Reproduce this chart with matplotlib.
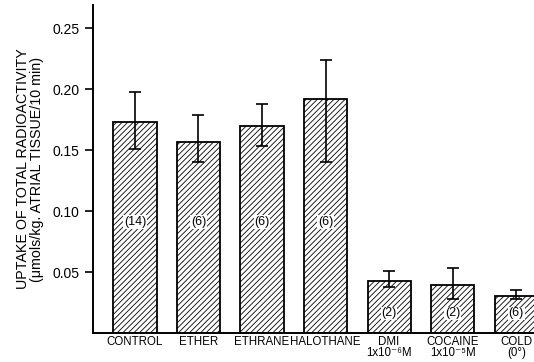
import matplotlib
matplotlib.use("Agg")
import matplotlib.pyplot as plt

# datos
grupos = ["CONTROL", "ETHER", "ETHRANE", "HALOTHANE", "DMI\n1x10⁻⁶M",
          "COCAINE\n1x10⁻⁵M", "COLD\n(0°)"]
captacion = [0.173, 0.157, 0.170, 0.192, 0.043, 0.039, 0.030]
err_sup = [0.198, 0.179, 0.188, 0.224, 0.051, 0.053, 0.035]
err_inf = [0.151, 0.140, 0.153, 0.140, 0.038, 0.028, 0.028]
n_muestras = ["(14)", "(6)", "(6)", "(6)", "(2)", "(2)", "(6)"]
y_ticks = [0.05, 0.10, 0.15, 0.20, 0.25]
y_tick_labels = ["0.05", "0.10", "0.15", "0.20", "0.25"]

plt.rcParams["font.family"] = ["Liberation Sans", "DejaVu Sans"]
plt.rcParams["hatch.linewidth"] = 0.6

fig = plt.figure(figsize=(5.34, 3.62), dpi=100)
ax = fig.add_axes([93 / 534, 29 / 362, 1 - 93 / 534, (333 - 5) / 362])

x = list(range(len(grupos)))
ax.bar(x, captacion, width=0.68, color="white", edgecolor="black",
       linewidth=1.3, hatch="//////")

# barras de error (asimetricas)
abajo = [c - e for c, e in zip(captacion, err_inf)]
arriba = [e - c for c, e in zip(captacion, err_sup)]
ax.errorbar(x, captacion, yerr=[abajo, arriba], fmt="none", ecolor="black",
            elinewidth=1.2, capsize=4, capthick=1.2)

# numero de muestras dentro de cada barra
for i, etiqueta in enumerate(n_muestras):
    y_txt = 0.091 if captacion[i] > 0.1 else 0.016
    ax.text(i, y_txt, etiqueta, ha="center", va="center", fontsize=9,
            bbox=dict(facecolor="white", edgecolor="none", pad=0.5))

ax.set_xlim(-0.66, 6.28)
ax.set_ylim(0, 0.269)
ax.set_yticks(y_ticks)
ax.set_yticklabels(y_tick_labels, fontsize=10)
ax.set_xticks(x)
ax.set_xticklabels(grupos, fontsize=8.3, linespacing=0.95)
ax.tick_params(axis="x", length=0, pad=2)
ax.tick_params(axis="y", direction="out", length=6, width=1.2)

for lado in ["top", "right"]:
    ax.spines[lado].set_visible(False)
ax.spines["left"].set_linewidth(1.4)
ax.spines["bottom"].set_linewidth(1.4)

ax.set_ylabel("UPTAKE OF TOTAL RADIOACTIVITY\n(μmols/kg. ATRIAL TISSUE/10 min)",
              fontsize=10.3, labelpad=6, linespacing=1.05)

fig.savefig("out.png", dpi=100)
